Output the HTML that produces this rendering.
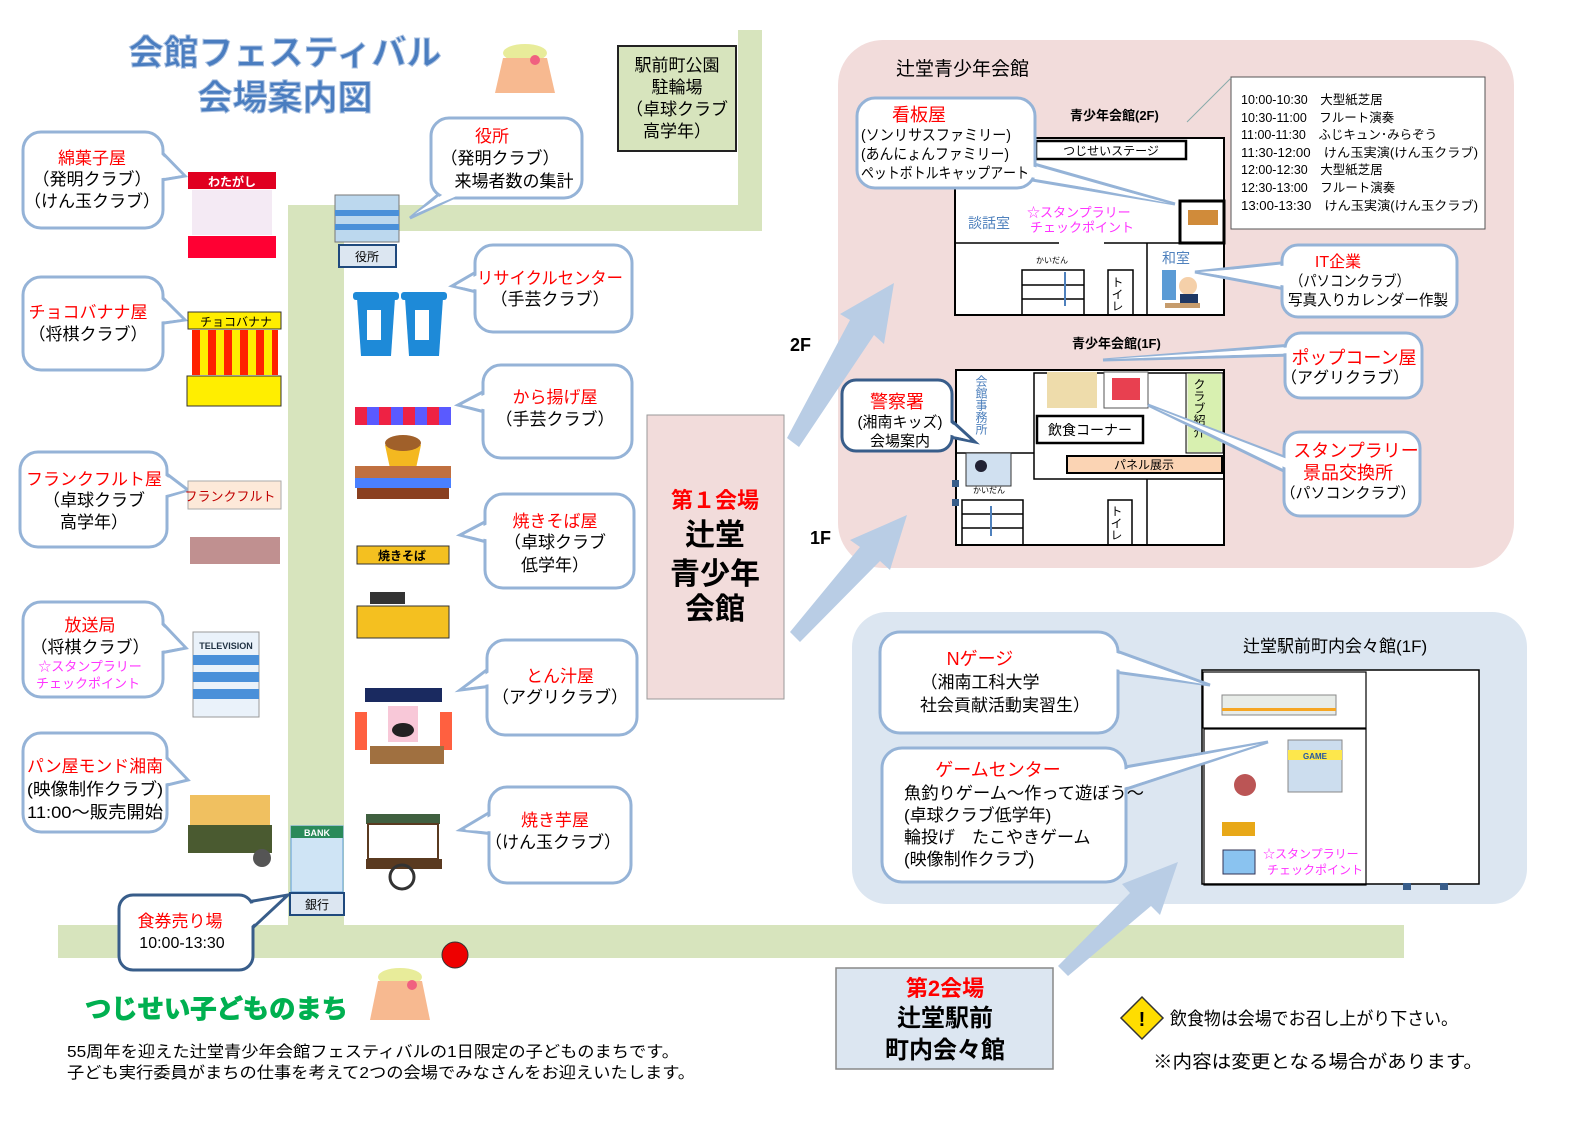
<!DOCTYPE html>
<html><head><meta charset="utf-8"><style>
html,body{margin:0;padding:0;background:#fff}
svg{display:block}
text{font-family:"Liberation Sans","Noto Sans CJK JP",sans-serif}
.r{fill:#ff0000}.k{fill:#000}.m{fill:#ff33ff}.b{fill:#4f81bd}
.bt{fill:#fff;stroke:#95b3d7;stroke-width:3}
.bf{fill:#fff;stroke:none}
.dk{fill:#fff;stroke:#385d8a;stroke-width:3}
</style></head><body>
<svg width="1587" height="1122" viewBox="0 0 1587 1122" xmlns="http://www.w3.org/2000/svg">
<!-- roads -->
<g fill="#d7e4bd">
<rect x="288" y="205" width="56" height="750"/>
<rect x="288" y="205" width="474" height="26"/>
<rect x="738" y="30" width="24" height="200"/>
<rect x="58" y="925" width="1346" height="33"/>
</g>
<!-- title -->
<text x="285" y="65" font-size="35" font-weight="bold" fill="#4a7dc0" text-anchor="middle" stroke="#a9c0e0" stroke-width="1">会館フェスティバル</text>
<text x="285" y="110" font-size="35" font-weight="bold" fill="#4a7dc0" text-anchor="middle" stroke="#a9c0e0" stroke-width="1">会場案内図</text>
<!-- mascot top -->
<g transform="translate(495,38)">
<ellipse cx="30" cy="15" rx="22" ry="9" fill="#e8ec9a"/>
<path d="M8 20 L52 20 L60 55 L0 55Z" fill="#f7b990"/>
<circle cx="40" cy="22" r="5" fill="#f06080"/>
</g>
<!-- park box -->
<rect x="618" y="46" width="118" height="105" fill="#d7e4bd" stroke="#222" stroke-width="2"/>
<g font-size="17" text-anchor="middle" class="k">
<text x="677" y="71">駅前町公園</text><text x="677" y="93">駐輪場</text><text x="677" y="115">（卓球クラブ</text><text x="677" y="137">高学年）</text></g>
<!-- pink and blue areas -->
<rect x="838" y="40" width="676" height="528" rx="45" fill="#f2dcdb"/>
<rect x="852" y="612" width="675" height="292" rx="35" fill="#dce6f1"/>
<text x="896" y="75" font-size="19" class="k">辻堂青少年会館</text>
<!-- schedule -->
<rect x="1231" y="77" width="254" height="152" fill="#fff" stroke="#555" stroke-width="1"/>
<line x1="1231" y1="78" x2="1187" y2="122" stroke="#8aa" stroke-width="1"/>
<g font-size="12.5" class="k">
<text x="1241" y="104">10:00-10:30　大型紙芝居</text>
<text x="1241" y="122">10:30-11:00　フルート演奏</text>
<text x="1241" y="139">11:00-11:30　ふじキュン･みらぞう</text>
<text x="1241" y="157" textLength="237" lengthAdjust="spacingAndGlyphs">11:30-12:00　けん玉実演(けん玉クラブ)</text>
<text x="1241" y="174">12:00-12:30　大型紙芝居</text>
<text x="1241" y="192">12:30-13:00　フルート演奏</text>
<text x="1241" y="210" textLength="237" lengthAdjust="spacingAndGlyphs">13:00-13:30　けん玉実演(けん玉クラブ)</text></g>
<!-- 2F plan -->
<text x="1070" y="120" font-size="13" font-weight="bold" class="k">青少年会館(2F)</text>
<rect x="955" y="138" width="269" height="177" fill="#fff" stroke="#000" stroke-width="2"/>
<g stroke="#000" fill="none" stroke-width="1.5">
<line x1="955" y1="243" x2="1059" y2="243"/><line x1="1104" y1="243" x2="1224" y2="243"/>
<line x1="1147" y1="243" x2="1147" y2="315"/>
<rect x="1022" y="270" width="62" height="45"/>
<line x1="1022" y1="285" x2="1084" y2="285"/><line x1="1022" y1="299" x2="1084" y2="299"/>
<rect x="1108" y="270" width="25" height="45"/>
</g>
<rect x="1036" y="141" width="150" height="18" fill="#fff" stroke="#000" stroke-width="2.5"/>
<text x="1111" y="155" font-size="12" text-anchor="middle" class="k">つじせいステージ</text>
<rect x="1180" y="201" width="44" height="42" fill="#fff" stroke="#000" stroke-width="3"/>
<rect x="1188" y="210" width="30" height="15" fill="#d08b3a"/>
<line x1="1065" y1="306" x2="1065" y2="272" stroke="#4f81bd" stroke-width="2"/>
<text x="1036" y="263" font-size="8" class="k">かいだん</text>
<text x="1117" y="276" font-size="12" class="k" writing-mode="tb">トイレ</text>
<text x="968" y="228" font-size="14" class="b">談話室</text>
<text x="1027" y="217" font-size="13" class="m">☆スタンプラリー</text>
<text x="1030" y="232" font-size="13" class="m">チェックポイント</text>
<text x="1162" y="263" font-size="14" class="b">和室</text>
<rect x="1162" y="270" width="14" height="30" fill="#5b9bd5"/>
<circle cx="1188" cy="286" r="9" fill="#f5d0a9"/><rect x="1180" y="294" width="18" height="12" fill="#1f3864"/>
<rect x="1165" y="303" width="35" height="5" fill="#c69c6d"/>
<!-- 1F plan -->
<text x="1072" y="348" font-size="13" font-weight="bold" class="k">青少年会館(1F)</text>
<rect x="956" y="370" width="268" height="175" fill="#fff" stroke="#000" stroke-width="2"/>
<g stroke="#000" fill="none" stroke-width="1.5">
<rect x="1034" y="373" width="190" height="106"/>
<line x1="956" y1="453" x2="1034" y2="453"/>
<line x1="1147" y1="479" x2="1147" y2="545"/>
<rect x="962" y="500" width="61" height="45"/>
<line x1="962" y1="514" x2="1023" y2="514"/><line x1="962" y1="528" x2="1023" y2="528"/>
<rect x="1108" y="500" width="24" height="45"/>
</g>
<rect x="1037" y="416" width="106" height="27" fill="#fff" stroke="#000" stroke-width="2.5"/>
<text x="1090" y="435" font-size="14" text-anchor="middle" class="k">飲食コーナー</text>
<rect x="1067" y="456" width="155" height="17" fill="#fbd4b4" stroke="#000" stroke-width="2"/>
<text x="1144" y="469" font-size="12" text-anchor="middle" class="k">パネル展示</text>
<rect x="1186" y="373" width="37" height="80" fill="#ebf1de" stroke="#000" stroke-width="1"/>
<rect x="1188" y="374" width="33" height="78" fill="#d8f0b0"/>
<text x="1199" y="378" font-size="12" class="k" writing-mode="tb">クラブ紹介</text>
<text x="981" y="375" font-size="12" class="b" writing-mode="tb">会館事務所</text>
<rect x="1047" y="372" width="50" height="36" fill="#eedcab"/>
<rect x="1104" y="372" width="44" height="36" fill="#fff" stroke="#555"/><rect x="1112" y="378" width="28" height="22" fill="#e84050"/>
<rect x="966" y="453" width="45" height="33" fill="#d0e0f0" stroke="#333"/><circle cx="981" cy="466" r="6" fill="#223"/>
<rect x="952" y="480" width="7" height="7" fill="#385d8a"/><rect x="952" y="499" width="7" height="7" fill="#385d8a"/>
<text x="973" y="493" font-size="8" class="k">かいだん</text>
<line x1="991" y1="506" x2="991" y2="536" stroke="#4f81bd" stroke-width="2"/>
<text x="1116" y="505" font-size="12" class="k" writing-mode="tb">トイレ</text>
<!-- 2nd venue plan -->
<text x="1243" y="652" font-size="17" class="k">辻堂駅前町内会々館(1F)</text>
<rect x="1202" y="670" width="277" height="214" fill="#fff" stroke="#000" stroke-width="1.5"/>
<rect x="1203" y="672" width="163" height="56" fill="#fff" stroke="#000" stroke-width="1.2"/>
<rect x="1204" y="729" width="162" height="156" fill="none" stroke="#000" stroke-width="1.2"/>
<rect x="1222" y="695" width="114" height="20" fill="#e8ece8" stroke="#888"/><rect x="1222" y="708" width="114" height="3" fill="#f6a623"/>
<rect x="1288" y="740" width="54" height="52" fill="#cde" stroke="#888"/><rect x="1288" y="750" width="54" height="10" fill="#fde74c"/>
<text x="1315" y="759" font-size="8" font-weight="bold" text-anchor="middle" fill="#2456a4">GAME</text>
<circle cx="1245" cy="785" r="11" fill="#b55"/><rect x="1222" y="822" width="33" height="14" fill="#e8a818"/>
<rect x="1223" y="850" width="32" height="24" fill="#8ac3f0" stroke="#335"/>
<text x="1263" y="858" font-size="12" class="m">☆スタンプラリー</text>
<text x="1267" y="874" font-size="12" class="m">チェックポイント</text>
<rect x="1403" y="883" width="8" height="7" fill="#385d8a"/><rect x="1440" y="883" width="8" height="7" fill="#385d8a"/>
<!-- arrows -->
<g fill="#b9cde5">
<polygon points="787,438 850,320 840,314 894,283 884,344 874,335 799,447"/>
<polygon points="790,632 860,547 850,540 907,515 890,570 880,561 800,642"/>
<polygon points="1058,966 1130,893 1122,884 1178,862 1160,915 1151,906 1068,976"/>
</g>
<text x="790" y="351" font-size="18" font-weight="bold" class="k">2F</text>
<text x="810" y="544" font-size="18" font-weight="bold" class="k">1F</text>
<!-- center boxes -->
<rect x="647" y="415" width="137" height="284" fill="#f2dcdb" stroke="#999" stroke-width="1"/>
<g text-anchor="middle" font-weight="bold">
<text x="715" y="508" font-size="22" class="r">第１会場</text>
<text x="715" y="545" font-size="30" class="k">辻堂</text>
<text x="715" y="584" font-size="30" class="k">青少年</text>
<text x="715" y="619" font-size="30" class="k">会館</text></g>
<rect x="836" y="968" width="217" height="101" fill="#dce6f1" stroke="#888" stroke-width="1.5"/>
<g text-anchor="middle" font-weight="bold">
<text x="945" y="996" font-size="22" class="r">第2会場</text>
<text x="945" y="1026" font-size="24" class="k">辻堂駅前</text>
<text x="945" y="1058" font-size="24" class="k">町内会々館</text></g>
<!-- bubbles left -->
<g>
<polygon class="bt" points="150,140 185,176 150,182"/><rect class="bt" x="23" y="132" width="140" height="96" rx="18"/><polygon class="bf" points="150,143 182,175 150,180"/>
<polygon class="bt" points="150,285 185,320 150,325"/><rect class="bt" x="23" y="277" width="140" height="93" rx="18"/><polygon class="bf" points="150,288 182,319 150,323"/>
<polygon class="bt" points="155,465 188,490 155,500"/><rect class="bt" x="20" y="452" width="147" height="95" rx="18"/><polygon class="bf" points="155,468 185,490 155,498"/>
<polygon class="bt" points="150,610 186,648 150,655"/><rect class="bt" x="23" y="602" width="140" height="95" rx="18"/><polygon class="bf" points="150,613 183,647 150,653"/>
<polygon class="bt" points="155,745 188,780 155,788"/><rect class="bt" x="23" y="733" width="144" height="99" rx="18"/><polygon class="bf" points="155,748 185,779 155,786"/>
<polygon class="dk" points="230,905 288,895 245,935"/><rect class="dk" x="119" y="895" width="134" height="75" rx="14"/><polygon class="bf" points="230,908 283,897 245,932"/>
</g>
<g font-size="17" text-anchor="middle">
<text x="92" y="164" class="r">綿菓子屋</text><text x="92" y="185" class="k">（発明クラブ）</text><text x="92" y="207" class="k">（けん玉クラブ）</text>
<text x="88" y="318" class="r">チョコバナナ屋</text><text x="88" y="340" class="k">（将棋クラブ）</text>
<text x="94" y="485" class="r">フランクフルト屋</text><text x="94" y="506" class="k">（卓球クラブ</text><text x="94" y="528" class="k">高学年）</text>
<text x="90" y="631" class="r">放送局</text><text x="90" y="653" class="k">（将棋クラブ）</text>
<text x="95" y="772" class="r" textLength="136" lengthAdjust="spacingAndGlyphs">パン屋モンド湘南</text><text x="95" y="795" class="k" textLength="136" lengthAdjust="spacingAndGlyphs">(映像制作クラブ)</text><text x="95" y="818" class="k" textLength="136" lengthAdjust="spacingAndGlyphs">11:00～販売開始</text>
<text x="180" y="927" class="r">食券売り場</text><text x="182" y="948" class="k" font-size="16">10:00-13:30</text>
</g>
<g font-size="13" text-anchor="middle"><text x="90" y="671" class="m">☆スタンプラリー</text><text x="88" y="688" class="m">チェックポイント</text></g>
<!-- bubbles right of road -->
<g>
<polygon class="bt" points="450,185 410,218 470,190"/><rect class="bt" x="431" y="118" width="151" height="80" rx="18"/><polygon class="bf" points="452,188 415,214 466,192"/>
<polygon class="bt" points="488,265 452,286 488,295"/><rect class="bt" x="475" y="245" width="157" height="87" rx="18"/><polygon class="bf" points="491,268 456,286 491,292"/>
<polygon class="bt" points="496,385 458,405 496,415"/><rect class="bt" x="483" y="365" width="149" height="93" rx="18"/><polygon class="bf" points="499,388 462,405 499,412"/>
<polygon class="bt" points="498,515 460,535 498,545"/><rect class="bt" x="485" y="494" width="149" height="94" rx="18"/><polygon class="bf" points="501,518 464,535 501,542"/>
<polygon class="bt" points="500,660 460,690 500,685"/><rect class="bt" x="487" y="640" width="150" height="95" rx="18"/><polygon class="bf" points="503,663 465,688 503,682"/>
<polygon class="bt" points="502,805 460,830 502,835"/><rect class="bt" x="489" y="787" width="142" height="96" rx="18"/><polygon class="bf" points="505,808 465,830 505,832"/>
</g>
<g font-size="17" text-anchor="middle">
<text x="492" y="142" class="r">役所</text><text x="500" y="164" class="k">（発明クラブ）</text><text x="514" y="187" class="k">来場者数の集計</text>
<text x="550" y="284" class="r" textLength="146" lengthAdjust="spacingAndGlyphs">リサイクルセンター</text><text x="550" y="305" class="k">（手芸クラブ）</text>
<text x="555" y="403" class="r">から揚げ屋</text><text x="555" y="425" class="k">（手芸クラブ）</text>
<text x="555" y="527" class="r">焼きそば屋</text><text x="555" y="548" class="k">（卓球クラブ</text><text x="555" y="571" class="k">低学年）</text>
<text x="560" y="682" class="r">とん汁屋</text><text x="560" y="703" class="k">（アグリクラブ）</text>
<text x="555" y="826" class="r">焼き芋屋</text><text x="553" y="848" class="k">（けん玉クラブ）</text>
</g>
<!-- bubbles in pink / blue areas -->
<g>
<polygon class="bt" points="1020,160 1175,204 1020,178"/><rect class="bt" x="857" y="98" width="178" height="90" rx="18"/><polygon class="bf" points="1020,163 1168,203 1020,175"/>
<polygon class="bt" points="1290,262 1195,272 1290,290"/><rect class="bt" x="1282" y="245" width="175" height="72" rx="16"/><polygon class="bf" points="1293,265 1200,272 1293,287"/>
<polygon class="bt" points="1292,345 1103,360 1292,355"/><rect class="bt" x="1285" y="333" width="137" height="65" rx="16"/><polygon class="bf" points="1295,347 1110,359 1295,353"/>
<polygon class="bt" points="1292,460 1148,405 1292,475"/><rect class="bt" x="1284" y="432" width="136" height="84" rx="16"/><polygon class="bf" points="1295,462 1155,408 1295,472"/>
<polygon class="dk" points="940,410 975,442 940,435"/><rect class="dk" x="842" y="380" width="110" height="71" rx="14"/><polygon class="bf" points="940,413 970,440 940,432"/>
<polygon class="bt" points="1100,645 1210,685 1100,670"/><rect class="bt" x="880" y="632" width="238" height="101" rx="20"/><polygon class="bf" points="1103,648 1203,684 1103,667"/>
<polygon class="bt" points="1108,770 1268,742 1108,795"/><rect class="bt" x="882" y="748" width="244" height="134" rx="20"/><polygon class="bf" points="1111,772 1260,744 1111,792"/>
</g>
<g font-size="16">
<text x="892" y="121" class="r" font-size="18">看板屋</text>
<text x="861" y="140" class="k" font-size="15" textLength="150" lengthAdjust="spacingAndGlyphs">(ソンリサスファミリー)</text>
<text x="861" y="159" class="k" font-size="15" textLength="148" lengthAdjust="spacingAndGlyphs">(あんにょんファミリー)</text>
<text x="861" y="178" class="k" font-size="15" textLength="168" lengthAdjust="spacingAndGlyphs">ペットボトルキャップアート</text>
<text x="1338" y="267" class="r" text-anchor="middle">IT企業</text>
<text x="1290" y="286" class="k" font-size="15" textLength="120" lengthAdjust="spacingAndGlyphs">（パソコンクラブ）</text>
<text x="1288" y="305" class="k" font-size="15" textLength="160" lengthAdjust="spacingAndGlyphs">写真入りカレンダー作製</text>
<text x="1354" y="364" class="r" text-anchor="middle" font-size="18">ポップコーン屋</text><text x="1345" y="383" class="k" text-anchor="middle">（アグリクラブ）</text>
<text x="1356" y="457" class="r" text-anchor="middle" font-size="18">スタンプラリー</text><text x="1348" y="479" class="r" text-anchor="middle" font-size="18">景品交換所</text><text x="1348" y="498" class="k" text-anchor="middle" font-size="15">（パソコンクラブ）</text>
<text x="897" y="408" class="r" text-anchor="middle" font-size="18">警察署</text><text x="900" y="427" class="k" text-anchor="middle" font-size="15">(湘南キッズ)</text><text x="900" y="446" class="k" text-anchor="middle" font-size="15">会場案内</text>
<text x="980" y="665" class="r" text-anchor="middle" font-size="18">Nゲージ</text><text x="980" y="688" class="k" text-anchor="middle" font-size="17">（湘南工科大学</text><text x="1005" y="711" class="k" text-anchor="middle" font-size="17">社会貢献活動実習生）</text>
<text x="998" y="776" class="r" text-anchor="middle" font-size="18">ゲームセンター</text>
<g font-size="17" class="k"><text x="904" y="799" textLength="240" lengthAdjust="spacingAndGlyphs">魚釣りゲーム～作って遊ぼう～</text><text x="904" y="821">(卓球クラブ低学年)</text><text x="904" y="843">輪投げ　たこやきゲーム</text><text x="904" y="865">(映像制作クラブ)</text></g>
</g>
<!-- stall illustrations (simplified) -->
<g>
<rect x="188" y="172" width="88" height="17" fill="#e00020"/><text x="232" y="186" font-size="12" fill="#fff" text-anchor="middle" font-weight="bold">わたがし</text>
<rect x="192" y="190" width="80" height="45" fill="#f4eaf4"/><rect x="188" y="236" width="88" height="22" fill="#ff0033"/>
<rect x="188" y="312" width="93" height="17" fill="#ffee00" stroke="#333"/><text x="236" y="326" font-size="12" text-anchor="middle">チョコバナナ</text>
<rect x="192" y="330" width="86" height="45" fill="#ff2200"/><rect x="200" y="330" width="8" height="45" fill="#ffee00"/><rect x="216" y="330" width="8" height="45" fill="#ffee00"/><rect x="232" y="330" width="8" height="45" fill="#ffee00"/><rect x="248" y="330" width="8" height="45" fill="#ffee00"/><rect x="264" y="330" width="8" height="45" fill="#ffee00"/>
<rect x="187" y="376" width="94" height="30" fill="#ffee00" stroke="#333"/>
<rect x="188" y="481" width="93" height="28" fill="#fde9d9" stroke="#aaa"/><text x="230" y="501" font-size="13" fill="#c00000" text-anchor="middle">フランクフルト</text>
<rect x="190" y="537" width="90" height="27" fill="#c09090"/>
<rect x="193" y="632" width="66" height="85" fill="#eaf2fa" stroke="#999"/><rect x="193" y="655" width="66" height="10" fill="#4a90d9"/><rect x="193" y="672" width="66" height="10" fill="#4a90d9"/><rect x="193" y="689" width="66" height="10" fill="#4a90d9"/>
<text x="226" y="649" font-size="9" font-weight="bold" text-anchor="middle" fill="#234">TELEVISION</text>
<rect x="190" y="795" width="80" height="30" fill="#f0c060"/><rect x="188" y="825" width="84" height="28" fill="#4a5a30"/><circle cx="262" cy="858" r="9" fill="#555"/>
<rect x="291" y="826" width="52" height="66" fill="#cfe4f5" stroke="#5b9bd5"/><rect x="291" y="826" width="52" height="12" fill="#2a8a5a"/>
<text x="317" y="836" font-size="9" fill="#fff" text-anchor="middle" font-weight="bold">BANK</text>
<rect x="290" y="893" width="54" height="22" fill="#dce6f1" stroke="#1f497d" stroke-width="2"/><text x="317" y="909" font-size="12" text-anchor="middle" class="k">銀行</text>
<rect x="335" y="195" width="64" height="47" fill="#bcd8ee" stroke="#777"/><rect x="335" y="210" width="64" height="6" fill="#4a90d9"/><rect x="335" y="224" width="64" height="6" fill="#4a90d9"/>
<rect x="339" y="245" width="57" height="22" fill="#dce6f1" stroke="#1f497d" stroke-width="2"/><text x="367" y="261" font-size="12" text-anchor="middle" class="k">役所</text>
<path d="M357 298 h38 l-4 58 h-30z" fill="#1e8ad8"/><rect x="353" y="292" width="46" height="8" rx="3" fill="#1e8ad8"/>
<path d="M405 298 h38 l-4 58 h-30z" fill="#1e8ad8"/><rect x="401" y="292" width="46" height="8" rx="3" fill="#1e8ad8"/>
<rect x="367" y="310" width="14" height="30" fill="#fff"/><rect x="415" y="310" width="14" height="30" fill="#fff"/>
<rect x="355" y="407" width="96" height="18" fill="#5a5aff"/><rect x="355" y="407" width="12" height="18" fill="#ee2244"/><rect x="379" y="407" width="12" height="18" fill="#ee2244"/><rect x="403" y="407" width="12" height="18" fill="#ee2244"/><rect x="427" y="407" width="12" height="18" fill="#ee2244"/>
<rect x="357" y="425" width="92" height="52" fill="#fff"/><path d="M385 445 h36 l-6 28 h-24z" fill="#f4b820"/><ellipse cx="403" cy="443" rx="18" ry="8" fill="#a0602a"/>
<rect x="355" y="466" width="96" height="12" fill="#c07040"/><rect x="355" y="478" width="96" height="10" fill="#4a80ff"/><rect x="357" y="488" width="92" height="11" fill="#8a4020"/>
<rect x="357" y="546" width="92" height="18" fill="#f4c020" stroke="#333"/><text x="402" y="560" font-size="12" text-anchor="middle" font-weight="bold">焼きそば</text><rect x="360" y="565" width="86" height="40" fill="#fff"/><rect x="370" y="592" width="35" height="12" fill="#333"/><rect x="357" y="606" width="92" height="32" fill="#f4c020" stroke="#333"/>
<rect x="365" y="688" width="77" height="14" fill="#1a2a60"/><rect x="368" y="702" width="70" height="44" fill="#fff"/><rect x="388" y="706" width="30" height="36" fill="#f8c8d8"/><ellipse cx="403" cy="730" rx="11" ry="7" fill="#222"/><rect x="355" y="712" width="12" height="38" fill="#ff6040"/><rect x="440" y="712" width="12" height="38" fill="#ff6040"/><rect x="370" y="746" width="74" height="18" fill="#a07040"/>
<rect x="366" y="814" width="74" height="10" fill="#406040"/><rect x="368" y="824" width="70" height="35" fill="#fff" stroke="#5a3a20" stroke-width="2"/><rect x="366" y="859" width="76" height="10" fill="#5a3a20"/><circle cx="402" cy="877" r="12" fill="none" stroke="#333" stroke-width="3"/>
</g>
<!-- bottom -->
<circle cx="455" cy="955" r="13" fill="#ee0000" stroke="#333"/>
<g transform="translate(370,965)"><ellipse cx="30" cy="12" rx="22" ry="9" fill="#e8ec9a"/><path d="M8 16 L52 16 L60 55 L0 55Z" fill="#f7b990"/><circle cx="42" cy="20" r="5" fill="#f06080"/></g>
<text x="85" y="1018" font-size="26" font-weight="bold" fill="#00b050" stroke="#00b050" stroke-width="1" textLength="263" lengthAdjust="spacingAndGlyphs">つじせい子どものまち</text>
<text x="67" y="1057" font-size="16" class="k" textLength="612" lengthAdjust="spacingAndGlyphs">55周年を迎えた辻堂青少年会館フェスティバルの1日限定の子どものまちです。</text>
<text x="67" y="1078" font-size="16" class="k" textLength="628" lengthAdjust="spacingAndGlyphs">子ども実行委員がまちの仕事を考えて2つの会場でみなさんをお迎えいたします。</text>
<polygon points="1142,997 1163,1018 1142,1039 1121,1018" fill="#ffdd00" stroke="#333" stroke-width="1.5"/>
<text x="1142" y="1026" font-size="20" font-weight="bold" text-anchor="middle" class="k">!</text>
<text x="1170" y="1025" font-size="18" class="k" textLength="288" lengthAdjust="spacingAndGlyphs">飲食物は会場でお召し上がり下さい。</text>
<text x="1153" y="1068" font-size="18" class="k" textLength="330" lengthAdjust="spacingAndGlyphs">※内容は変更となる場合があります。</text>
</svg>
</body></html>
